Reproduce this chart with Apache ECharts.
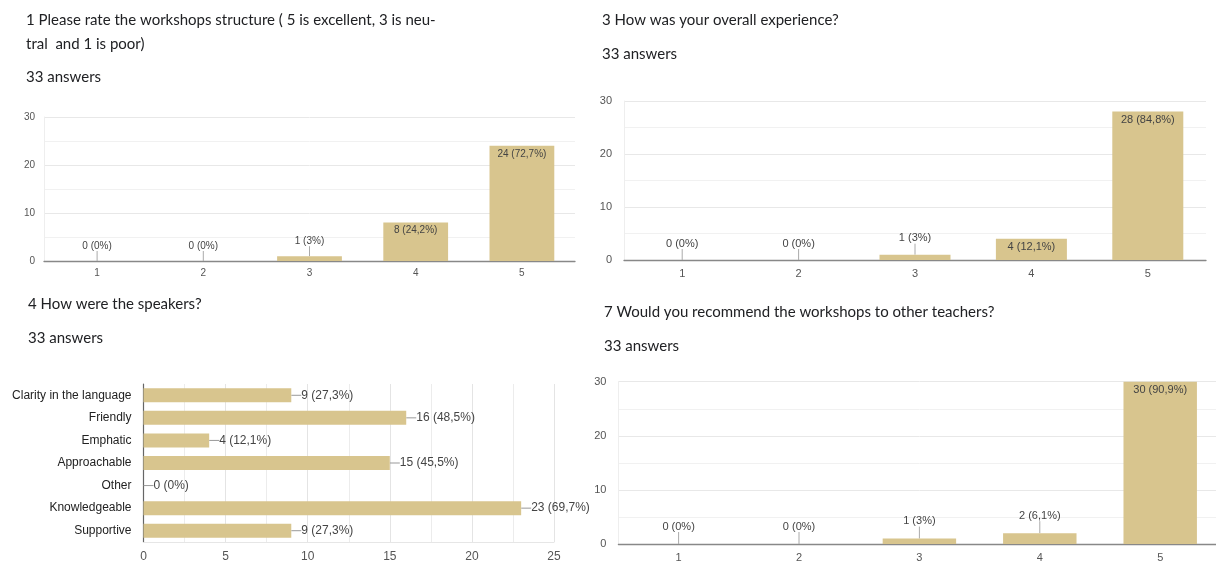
<!DOCTYPE html>
<html><head><meta charset="utf-8">
<script src="https://cdn.jsdelivr.net/npm/echarts@6/dist/echarts.min.js"></script>
<style>html,body{margin:0;padding:0;background:#fff;overflow:hidden}#c{width:1224px;height:563px}</style>
</head><body><div id="c"></div>
<script>
// ---- data ----
const totalAnswers = 33;
const ratingCats = ['1', '2', '3', '4', '5'];
const q1Values = [0, 0, 1, 8, 24];
const q3Values = [0, 0, 1, 4, 28];
const q7Values = [0, 0, 1, 2, 30];
const speakerCats = ['Clarity in the language', 'Friendly', 'Emphatic', 'Approachable', 'Other', 'Knowledgeable', 'Supportive'];
const speakerValues = [9, 16, 4, 15, 0, 23, 9];
const q1Title = ['1 Please rate the workshops structure ( 5 is excellent, 3 is neu-', 'tral  and 1 is poor)'];
const q3Title = ['3 How was your overall experience?'];
const q4Title = ['4 How were the speakers?'];
const q7Title = ['7 Would you recommend the workshops to other teachers?'];
const answersText = totalAnswers + ' answers';
const ratingMax = 30, ratingStep = 10;
const speakerMax = 25, speakerStep = 5;

// ---- style ----
const BAR = '#D8C58E';
const TXT = '#202124';
const AX = '#555';
const LBL = 'Liberation Sans, Arial, sans-serif';
const TITLEF = 'Lato, sans-serif';

function pctLabel(v) {
  const p = Math.round(v / totalAnswers * 1000) / 10;
  return v + ' (' + String(p).replace('.', ',') + '%)';
}

function vData(values, insideMin) {
  return values.map(v => v >= insideMin
    ? { value: v, label: { position: 'insideTop', distance: 3 } }
    : { value: v, label: { position: 'top', distance: 1 }, labelLine: { show: true } });
}

const chart = echarts.init(document.getElementById('c'), null, { renderer: 'canvas' });

const grids = [
  { left: 44, top: 117, width: 531, height: 144 },
  { left: 624, top: 101, width: 582, height: 159 },
  { left: 143.5, top: 384, width: 410.5, height: 159 },
  { left: 618.4, top: 381.7, width: 602, height: 164 }
];

function ratingX(gi, fs, margin) {
  return {
    type: 'category', gridIndex: gi, data: ratingCats,
    axisTick: { show: false },
    axisLine: { lineStyle: { color: '#888', width: 1.3 } },
    axisLabel: { color: AX, fontFamily: LBL, fontSize: fs, margin: margin }
  };
}
function ratingY(gi, fs, margin) {
  return {
    type: 'value', gridIndex: gi, min: 0, max: ratingMax, interval: ratingStep,
    axisLine: { show: true, lineStyle: { color: '#eeeeee' } }, axisTick: { show: false },
    axisLabel: { color: AX, fontFamily: LBL, fontSize: fs, margin: margin },
    splitLine: { lineStyle: { color: '#e8e8e8' } },
    minorTick: { show: false, splitNumber: 2 },
    minorSplitLine: { show: true, lineStyle: { color: '#f1f1f1' } }
  };
}
function ratingSeries(gi, values, fs, dy) {
  return {
    type: 'bar', xAxisIndex: gi, yAxisIndex: gi, data: vData(values, 3),
    barWidth: '61%', itemStyle: { color: BAR },
    label: { show: true, color: '#444', fontFamily: LBL, fontSize: fs, formatter: p => pctLabel(p.value) },
    labelLine: { show: false, lineStyle: { color: '#aaa', width: 1 } },
    labelLayout: p => (values[p.dataIndex] < 3 ? { dy: dy } : {}),
    animation: false
  };
}

function titleTexts(lines, x, y0, gap) {
  return lines.map((t, i) => ({
    type: 'text', x: x, y: y0 + i * gap,
    style: { text: t, fill: TXT, font: '15px ' + TITLEF, textVerticalAlign: 'middle' }
  }));
}

const option = {
  animation: false,
  grid: grids,
  xAxis: [
    ratingX(0, 10, 7),
    ratingX(1, 11, 8),
    {
      type: 'value', gridIndex: 2, min: 0, max: speakerMax, interval: speakerStep,
      axisLine: { show: true, lineStyle: { color: '#e6e6e6' } }, axisTick: { show: false },
      axisLabel: { color: AX, fontFamily: LBL, fontSize: 12, margin: 9 },
      splitLine: { lineStyle: { color: '#e4e4e4' } },
      minorTick: { show: false, splitNumber: 2 },
      minorSplitLine: { show: true, lineStyle: { color: '#ececec' } }
    },
    ratingX(3, 11, 8)
  ],
  yAxis: [
    ratingY(0, 10, 9),
    ratingY(1, 11, 12),
    {
      type: 'category', gridIndex: 2, data: speakerCats, inverse: true,
      axisTick: { show: false },
      axisLine: { show: true, lineStyle: { color: '#666', width: 1.2 } },
      axisLabel: { color: '#222', fontFamily: LBL, fontSize: 12, margin: 12 }
    },
    ratingY(3, 11, 12)
  ],
  series: [
    ratingSeries(0, q1Values, 10, -9),
    ratingSeries(1, q3Values, 11, -10),
    {
      type: 'bar', xAxisIndex: 2, yAxisIndex: 2,
      data: speakerValues.map(v => ({ value: v, labelLine: { show: true } })),
      barWidth: '62%', itemStyle: { color: BAR },
      label: { show: true, position: 'right', distance: 0, color: '#444', fontFamily: LBL, fontSize: 12, formatter: p => pctLabel(p.value) },
      labelLine: { show: true, lineStyle: { color: '#999', width: 1 } },
      labelLayout: { dx: 10 }
    },
    ratingSeries(3, q7Values, 11, -11)
  ],
  graphic: [].concat(
    titleTexts(q1Title, 26, 20, 24),
    titleTexts([answersText], 26, 77, 0),
    titleTexts(q3Title, 602, 20, 0),
    titleTexts([answersText], 602, 54, 0),
    titleTexts(q4Title, 28, 304, 0),
    titleTexts([answersText], 28, 338, 0),
    titleTexts(q7Title, 604, 312, 0),
    titleTexts([answersText], 604, 346, 0)
  )
};
chart.setOption(option);
</script>
</body></html>
